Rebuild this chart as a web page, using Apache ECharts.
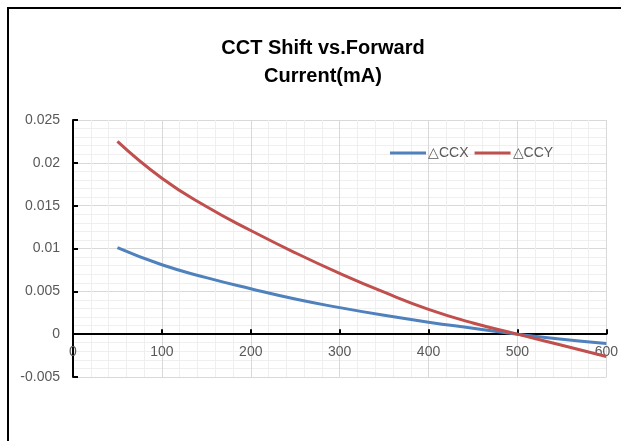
<!DOCTYPE html>
<html>
<head>
<meta charset="utf-8">
<script src="https://cdn.jsdelivr.net/npm/echarts@6/dist/echarts.min.js"></script>
<style>
html,body{margin:0;padding:0;background:#fff;}
#chart{width:621px;height:441px;}
</style>
</head>
<body>
<div id="chart"></div>
<script>
var currents = [50, 100, 150, 200, 250, 300, 350, 400, 450, 500, 550, 600];
var ccx = [0.0101, 0.0081, 0.0066, 0.0053, 0.0041, 0.0031, 0.0022, 0.0014, 0.0007, 0.0, -0.0006, -0.0011];
var ccy = [0.0225, 0.0182, 0.0149, 0.0121, 0.0095, 0.0071, 0.0049, 0.0029, 0.0013, 0.0, -0.0013, -0.0026];
var seriesNames = ['△CCX', '△CCY'];
var titleText = 'CCT Shift vs.Forward\nCurrent(mA)';
var xTicks = {min: 0, max: 600, step: 100};
var yTicks = {min: -0.005, max: 0.025, step: 0.005};

function pairs(xs, ys) { return xs.map(function (x, i) { return [x, ys[i]]; }); }

var gridTop = 120, gridBottom = 64, H = 441;
var plotH = H - gridTop - gridBottom;
var zeroOffset = -plotH * (0 - yTicks.min) / (yTicks.max - yTicks.min);

var chart = echarts.init(document.getElementById('chart'), null, {renderer: 'canvas'});
var labelFont = 'Liberation Sans, sans-serif';
chart.setOption({
  animation: false,
  backgroundColor: '#ffffff',
  title: {
    text: titleText,
    left: 318,
    top: 29,
    textAlign: 'center',
    textStyle: {fontFamily: labelFont, fontWeight: 'bold', fontSize: 20, lineHeight: 28, color: '#000000'}
  },
  legend: {
    left: 385,
    top: 141,
    icon: 'rect',
    itemWidth: 36,
    itemHeight: 3,
    itemGap: 6,
    textStyle: {fontFamily: labelFont, fontSize: 14, color: '#595959', padding: [0, 0, 0, -3]},
    data: seriesNames
  },
  grid: {left: 73, right: 14, top: gridTop, bottom: gridBottom, containLabel: false},
  xAxis: {
    type: 'value', min: xTicks.min, max: xTicks.max, interval: xTicks.step,
    offset: zeroOffset,
    axisLine: {onZero: false, lineStyle: {color: '#000', width: 2}},
    axisTick: {show: true, inside: true, length: 5, lineStyle: {color: '#000', width: 2}},
    axisLabel: {color: '#595959', fontFamily: labelFont, fontSize: 14, margin: 11, showMinLabel: true, showMaxLabel: true},
    splitLine: {show: true, lineStyle: {color: '#d9d9d9', width: 1}},
    minorTick: {show: false, splitNumber: 5},
    minorSplitLine: {show: true, lineStyle: {color: '#efefef', width: 1}}
  },
  yAxis: {
    type: 'value', min: yTicks.min, max: yTicks.max, interval: yTicks.step,
    axisLine: {show: true, onZero: false, lineStyle: {color: '#000', width: 2}},
    axisTick: {show: true, inside: true, length: 5, lineStyle: {color: '#000', width: 2}},
    axisLabel: {color: '#595959', fontFamily: labelFont, fontSize: 14, margin: 13},
    splitLine: {show: true, lineStyle: {color: '#d9d9d9', width: 1}},
    minorTick: {show: false, splitNumber: 5},
    minorSplitLine: {show: true, lineStyle: {color: '#efefef', width: 1}}
  },
  graphic: [{
    type: 'polyline',
    shape: {points: [[8, 441], [8, 8], [621, 8]]},
    style: {stroke: '#000', lineWidth: 2, fill: null},
    silent: true
  }],
  series: [
    {name: seriesNames[0], type: 'line', smooth: true, showSymbol: false, data: pairs(currents, ccx),
     lineStyle: {color: '#4f81bd', width: 3}, itemStyle: {color: '#4f81bd'}},
    {name: seriesNames[1], type: 'line', smooth: true, showSymbol: false, data: pairs(currents, ccy),
     lineStyle: {color: '#c0504d', width: 3}, itemStyle: {color: '#c0504d'}}
  ]
});
</script>
</body>
</html>
